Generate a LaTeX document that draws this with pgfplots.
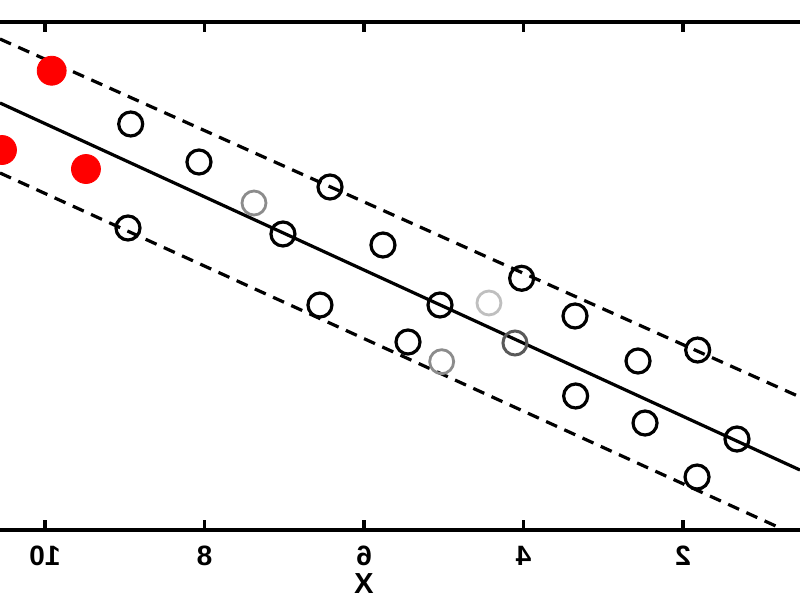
\documentclass[border=0pt]{standalone}
\usepackage{pgfplots}
\pgfplotsset{compat=1.18}
\usepackage{graphicx}
\usepackage{fontspec}
\setmainfont{Liberation Sans}

\begin{document}
\begin{tikzpicture}
\begin{axis}[
  scale only axis, width=400pt, height=254pt,
  x dir=reverse, xmin=0.533, xmax=10.564, ymin=0, ymax=10,
  axis y line=none, axis x line=box,
  axis line style={line width=1.6pt},
  xtick={2,4,6,8,10}, ytick=\empty,
  major tick length=5pt, tick align=inside,
  tick style={line width=1.6pt, black},
  xticklabel={\reflectbox{\pgfmathprintnumber[assume math mode=true]{\tick}}},
  xticklabel style={anchor=center, yshift=-13pt, font=\fontsize{14}{16}\selectfont\bfseries},
  xlabel={\reflectbox{X}},
  xlabel style={at={(axis cs:6,0)}, anchor=center, inner sep=0pt, yshift=-27pt, font=\fontsize{14.5}{16}\selectfont\bfseries},
  clip=false,
]
\addplot[black, line width=1.6pt] coordinates {(10.564,8.406) (0.533,1.181)};
\addplot[black, line width=1.6pt, dash pattern=on 6pt off 4pt] coordinates {(10.564,9.665) (0.533,2.618)};
\addplot[black, line width=1.6pt, dash pattern=on 6pt off 4pt] coordinates {(10.564,7.028) (0.809,0.059)};
% open circles
\addplot[only marks, mark=o, mark size=6pt, mark options={line width=1.6pt, draw=black}] coordinates {
(8.925,7.992) (8.069,7.244) (6.426,6.752) (8.959,5.945) (7.016,5.827) (5.762,5.610)
(6.552,4.429) (5.047,4.429) (4.023,4.955) (5.448,3.701) (3.354,4.213)
(3.346,2.638) (2.564,3.327) (2.476,2.106) (1.816,3.543) (1.824,1.043) (1.323,1.791)
};
% faded circles
\addplot[only marks, mark=o, mark size=6pt, mark options={line width=1.4pt, draw=black!45}] coordinates {(7.379,6.437) (5.026,3.313)};
\addplot[only marks, mark=o, mark size=6pt, mark options={line width=1.4pt, draw=black!25}] coordinates {(4.433,4.469)};
\addplot[only marks, mark=o, mark size=6pt, mark options={line width=1.5pt, draw=black!65}] coordinates {(4.107,3.681)};
% red filled
\addplot[only marks, mark=*, mark size=7.25pt, mark options={draw=red, fill=red}] coordinates {
(9.916,9.041) (10.539,7.480) (9.486,7.106)
};
\end{axis}
\pgfresetboundingbox
\path ([yshift=-35pt]current axis.south west) rectangle ([yshift=11pt]current axis.north east);
\end{tikzpicture}
\end{document}
